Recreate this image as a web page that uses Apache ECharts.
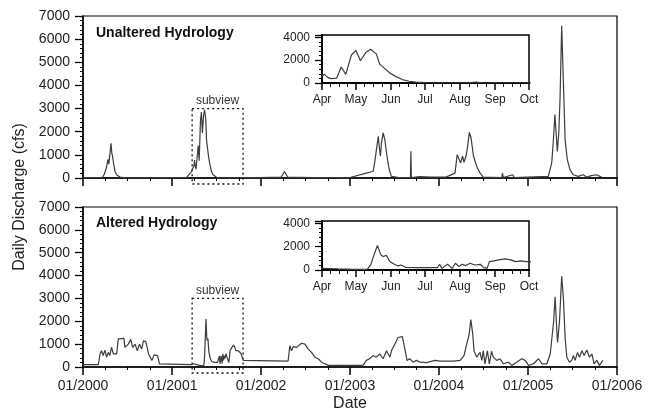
<!DOCTYPE html>
<html>
<head>
<meta charset="utf-8">
<script src="https://cdn.jsdelivr.net/npm/echarts@6/dist/echarts.min.js"></script>
<style>
  html, body { margin: 0; padding: 0; background: #fff; }
  #chart { width: 651px; height: 413px; }
</style>
</head>
<body>
<div id="chart"></div>
<script>
// daily discharge (cfs)
const unalteredFlow = [
  ['2000-01-01', 20], ['2000-03-20', 30], ['2000-03-28', 150], ['2000-04-06', 450],
  ['2000-04-12', 800], ['2000-04-16', 600], ['2000-04-20', 1000], ['2000-04-25', 1500],
  ['2000-04-28', 1100], ['2000-05-01', 950], ['2000-05-06', 600], ['2000-05-12', 250],
  ['2000-05-20', 120], ['2000-06-01', 40], ['2000-06-15', 20], ['2000-09-01', 10],
  ['2000-10-25', 20], ['2000-10-31', 70], ['2000-11-06', 20], ['2001-01-01', 20],
  ['2001-03-01', 30], ['2001-03-20', 250],
  ['2001-04-01', 550], ['2001-04-03', 780], ['2001-04-06', 490], ['2001-04-09', 380],
  ['2001-04-14', 430], ['2001-04-18', 1400], ['2001-04-22', 750], ['2001-04-27', 2450],
  ['2001-05-01', 2850], ['2001-05-05', 1950], ['2001-05-10', 2700], ['2001-05-14', 2950],
  ['2001-05-19', 2550], ['2001-05-22', 1650], ['2001-05-26', 1300], ['2001-05-31', 880],
  ['2001-06-05', 580], ['2001-06-11', 300], ['2001-06-17', 150], ['2001-06-23', 70],
  ['2001-07-02', 30], ['2001-07-11', 10], ['2001-08-09', 10], ['2001-08-15', 90],
  ['2001-08-21', 10], ['2001-10-01', 10], ['2001-11-01', 20], ['2002-01-01', 20],
  ['2002-03-25', 40], ['2002-04-07', 280], ['2002-04-20', 40], ['2002-08-01', 20],
  ['2003-01-01', 20], ['2003-03-09', 210], ['2003-03-23', 250], ['2003-04-06', 290],
  ['2003-04-13', 720], ['2003-04-20', 790], ['2003-04-27', 1800], ['2003-05-01', 1360],
  ['2003-05-06', 940], ['2003-05-10', 1510], ['2003-05-17', 1950], ['2003-05-24', 1660],
  ['2003-05-31', 1080], ['2003-06-07', 600], ['2003-06-13', 290], ['2003-06-20', 70],
  ['2003-07-15', 30], ['2003-09-06', 20], ['2003-09-08', 1150], ['2003-09-10', 20],
  ['2003-10-15', 60], ['2003-12-01', 40], ['2004-02-01', 50],
  ['2004-03-07', 210], ['2004-03-16', 1010], ['2004-03-24', 940], ['2004-03-30', 650],
  ['2004-04-07', 940], ['2004-04-13', 680], ['2004-04-21', 940], ['2004-04-28', 1370],
  ['2004-05-05', 1970], ['2004-05-12', 1730], ['2004-05-22', 940], ['2004-06-04', 500],
  ['2004-06-18', 210], ['2004-07-01', 40], ['2004-09-15', 20], ['2004-09-18', 210],
  ['2004-09-21', 20], ['2004-10-30', 140], ['2004-11-05', 20], ['2005-03-25', 70],
  ['2005-04-08', 650], ['2005-04-15', 1660], ['2005-04-21', 2740], ['2005-04-27', 1800],
  ['2005-05-01', 1150], ['2005-05-07', 1940], ['2005-05-12', 3380], ['2005-05-19', 6580],
  ['2005-05-26', 4100], ['2005-06-02', 1660], ['2005-06-11', 790], ['2005-06-22', 360],
  ['2005-07-05', 140], ['2005-07-26', 70], ['2005-08-15', 140], ['2005-08-29', 40],
  ['2005-09-18', 100], ['2005-10-08', 140], ['2005-10-30', 40]
];

const alteredFlow = [
  ['2000-01-01', 100], ['2000-03-04', 100], ['2000-03-11', 570], ['2000-03-17', 710],
  ['2000-03-24', 500], ['2000-03-31', 740], ['2000-04-07', 430], ['2000-04-14', 640],
  ['2000-04-20', 500], ['2000-04-27', 860], ['2000-05-05', 570], ['2000-05-18', 570],
  ['2000-05-25', 1230], ['2000-06-17', 1250], ['2000-06-21', 860], ['2000-07-05', 1000],
  ['2000-07-15', 1210], ['2000-07-23', 860], ['2000-08-02', 1000], ['2000-08-11', 710],
  ['2000-08-20', 1000], ['2000-08-29', 790], ['2000-09-05', 1140], ['2000-09-15', 1110],
  ['2000-09-23', 1070], ['2000-09-26', 570], ['2000-10-10', 290], ['2000-10-19', 530],
  ['2000-11-02', 500], ['2000-11-10', 140], ['2000-11-16', 100], ['2001-03-20', 100],
  ['2001-04-01', 140], ['2001-04-15', 90], ['2001-04-29', 60], ['2001-05-11', 60],
  ['2001-05-14', 430], ['2001-05-17', 1300], ['2001-05-20', 2100], ['2001-05-23', 1300],
  ['2001-05-25', 1160], ['2001-05-28', 1250], ['2001-05-31', 720], ['2001-06-04', 490],
  ['2001-06-07', 350], ['2001-06-10', 430], ['2001-06-14', 230], ['2001-06-23', 200],
  ['2001-07-06', 200], ['2001-07-12', 200], ['2001-07-14', 490], ['2001-07-16', 140],
  ['2001-07-21', 490], ['2001-07-25', 140], ['2001-07-28', 580], ['2001-07-31', 290],
  ['2001-08-03', 490], ['2001-08-06', 380], ['2001-08-10', 580], ['2001-08-14', 430],
  ['2001-08-19', 490], ['2001-08-22', 200], ['2001-08-25', 140], ['2001-08-27', 720],
  ['2001-08-31', 780], ['2001-09-04', 870], ['2001-09-10', 960], ['2001-09-15', 870],
  ['2001-09-19', 720], ['2001-09-24', 780], ['2001-09-28', 720], ['2001-10-01', 720],
  ['2001-10-10', 600], ['2001-10-20', 290], ['2001-10-25', 250], ['2002-04-22', 260],
  ['2002-04-29', 930], ['2002-05-06', 710], ['2002-05-13', 890], ['2002-05-27', 860],
  ['2002-06-16', 1040], ['2002-06-30', 1000], ['2002-07-13', 790], ['2002-07-27', 640],
  ['2002-08-10', 430], ['2002-08-24', 360], ['2002-09-06', 210], ['2002-09-20', 140],
  ['2002-10-04', 70], ['2003-02-24', 70], ['2003-03-09', 290], ['2003-03-23', 360],
  ['2003-04-05', 500], ['2003-04-19', 430], ['2003-05-03', 570], ['2003-05-17', 360],
  ['2003-05-31', 710], ['2003-06-14', 430], ['2003-06-20', 710], ['2003-07-04', 1000],
  ['2003-07-17', 1290], ['2003-08-04', 1330], ['2003-08-14', 790], ['2003-08-23', 290],
  ['2003-09-03', 360], ['2003-09-17', 210], ['2003-10-01', 290], ['2003-10-15', 210],
  ['2003-11-11', 190], ['2003-12-16', 290], ['2004-01-05', 260], ['2004-03-01', 260],
  ['2004-03-28', 290], ['2004-04-13', 500], ['2004-04-24', 1000], ['2004-05-04', 1430],
  ['2004-05-11', 2070], ['2004-05-19', 1430], ['2004-05-24', 710], ['2004-06-04', 430],
  ['2004-06-18', 640], ['2004-06-25', 290], ['2004-07-01', 710], ['2004-07-08', 140],
  ['2004-07-18', 710], ['2004-07-26', 140], ['2004-08-04', 690], ['2004-08-11', 430],
  ['2004-08-25', 290], ['2004-09-08', 360], ['2004-09-22', 140], ['2004-10-12', 210],
  ['2004-10-26', 70], ['2004-11-15', 210], ['2004-12-06', 360], ['2004-12-20', 290],
  ['2005-01-03', 70], ['2005-01-23', 140], ['2005-02-13', 360], ['2005-02-27', 140],
  ['2005-03-19', 140], ['2005-04-02', 570], ['2005-04-16', 2000], ['2005-04-22', 3070],
  ['2005-04-29', 1570], ['2005-05-02', 1070], ['2005-05-10', 2000], ['2005-05-19', 3970],
  ['2005-05-26', 3000], ['2005-06-02', 1290], ['2005-06-09', 430], ['2005-06-20', 210],
  ['2005-06-29', 290], ['2005-07-06', 500], ['2005-07-13', 290], ['2005-07-23', 640],
  ['2005-07-31', 430], ['2005-08-10', 710], ['2005-08-19', 500], ['2005-08-30', 740],
  ['2005-09-10', 430], ['2005-09-20', 570], ['2005-09-29', 140], ['2005-10-10', 290],
  ['2005-10-21', 70], ['2005-11-04', 290]
];

const panelTitles = ['Unaltered Hydrology', 'Altered Hydrology'];
const mainRange = ['2000-01-01', '2006-01-01'];
const subviewRange = ['2001-04-01', '2001-10-01'];
// dotted box drawn on the main panels: start, end, top value
const subviewBox = [['2001-03-24', '2001-10-19', 3000]];

const FONT = '"Liberation Sans", Arial, sans-serif';
const LINE = '#3c3c3c';
const plainNumber = function (v) { return String(v); };

const chart = echarts.init(document.getElementById('chart'), null, { renderer: 'canvas' });

function mainX(gridIndex, showLabels) {
  return {
    type: 'time', gridIndex: gridIndex,
    min: mainRange[0], max: mainRange[1], splitNumber: 6,
    axisLine: { lineStyle: { color: '#000', width: 1.5 } },
    axisTick: { show: true, inside: false, length: 8, lineStyle: { color: '#000', width: 1.5 } },
    minorTick: { show: true, splitNumber: 4, length: 3, lineStyle: { color: '#000', width: 1 } },
    splitLine: { show: false },
    axisLabel: {
      show: showLabels, formatter: '{MM}/{yyyy}', margin: 12,
      fontSize: 14, fontFamily: FONT, color: '#222', showMinLabel: true, showMaxLabel: true
    },
    name: showLabels ? 'Date' : '', nameLocation: 'middle', nameGap: 29,
    nameTextStyle: { fontSize: 16, fontFamily: FONT, color: '#222' }
  };
}
function mainY(gridIndex) {
  return {
    type: 'value', gridIndex: gridIndex, min: 0, max: 7000, interval: 1000,
    axisLine: { show: true, lineStyle: { color: '#000', width: 1.5 } },
    axisTick: { show: true, inside: false, length: 8, lineStyle: { color: '#000', width: 1.3 } },
    minorTick: { show: true, splitNumber: 5, length: 3, lineStyle: { color: '#000', width: 1 } },
    splitLine: { show: false },
    axisLabel: { margin: 13, fontSize: 14, fontFamily: FONT, color: '#222', formatter: plainNumber }
  };
}
function insetX(gridIndex) {
  return {
    type: 'time', gridIndex: gridIndex,
    min: subviewRange[0], max: subviewRange[1], splitNumber: 6,
    axisLine: { lineStyle: { color: '#000', width: 2 } },
    axisTick: { show: true, inside: false, length: 7, lineStyle: { color: '#000', width: 1.5 } },
    minorTick: { show: true, splitNumber: 4, length: 4, lineStyle: { color: '#000', width: 1 } },
    splitLine: { show: false },
    axisLabel: { formatter: '{MMM}', margin: 11, fontSize: 12, fontFamily: FONT, color: '#222',
      showMinLabel: true, showMaxLabel: true }
  };
}
function insetY(gridIndex) {
  return {
    type: 'value', gridIndex: gridIndex, min: 0, max: 4200, interval: 2000,
    axisLine: { show: true, lineStyle: { color: '#000', width: 2 } },
    axisTick: { show: true, inside: false, length: 7, lineStyle: { color: '#000', width: 1.3 } },
    minorTick: { show: true, splitNumber: 5, length: 3, lineStyle: { color: '#000', width: 1 } },
    splitLine: { show: false },
    axisLabel: { margin: 12, fontSize: 12, fontFamily: FONT, color: '#222', showMaxLabel: false,
      formatter: plainNumber }
  };
}

function flowLine(data, idx) {
  return {
    type: 'line', data: data, xAxisIndex: idx, yAxisIndex: idx,
    showSymbol: false, symbol: 'none', silent: true,
    lineStyle: { color: LINE, width: 1.2 }
  };
}

function subviewSeries(idx) {
  return {
    type: 'custom', xAxisIndex: idx, yAxisIndex: idx, clip: false, silent: true,
    dimensions: [{ name: 'start', type: 'time' }, { name: 'end', type: 'time' }, { name: 'top', type: 'number' }],
    encode: { x: [0, 1], y: 2 },
    data: subviewBox,
    renderItem: function (params, api) {
      const p0 = api.coord([api.value(0), api.value(2)]);
      const p1 = api.coord([api.value(1), 0]);
      return {
        type: 'group',
        children: [{
          type: 'rect',
          shape: { x: p0[0], y: p0[1], width: p1[0] - p0[0], height: p1[1] - p0[1] + 6 },
          style: { fill: 'none', stroke: '#111', lineWidth: 1.3, lineDash: [2, 3] }
        }, {
          type: 'text',
          x: (p0[0] + p1[0]) / 2, y: p0[1] - 2,
          style: { text: 'subview', align: 'center', verticalAlign: 'bottom',
            font: '12px ' + FONT, fill: '#333' }
        }]
      };
    }
  };
}

const frame = { show: true, borderColor: '#000', borderWidth: 1.2, backgroundColor: 'transparent' };

const option = {
  animation: false,
  backgroundColor: '#fff',
  title: [
    { text: panelTitles[0], left: 96, top: 26, padding: 0,
      textStyle: { fontSize: 14, fontWeight: 'bold', fontFamily: FONT, color: '#111' } },
    { text: panelTitles[1], left: 96, top: 216, padding: 0,
      textStyle: { fontSize: 14, fontWeight: 'bold', fontFamily: FONT, color: '#111' } }
  ],
  grid: [
    Object.assign({ left: 83, top: 16, width: 534, height: 162 }, frame),
    Object.assign({ left: 83, top: 207, width: 534, height: 163 }, frame),
    Object.assign({ left: 322, top: 35, width: 207, height: 48 }, frame, { borderWidth: 1.5 }),
    Object.assign({ left: 322, top: 221, width: 207, height: 49 }, frame, { borderWidth: 1.5 })
  ],
  xAxis: [mainX(0, false), mainX(1, true), insetX(2), insetX(3)],
  yAxis: [mainY(0), mainY(1), insetY(2), insetY(3)],
  graphic: [{
    type: 'text', x: 20, y: 197, rotation: Math.PI / 2,
    style: { text: 'Daily Discharge (cfs)', align: 'center', verticalAlign: 'middle',
      font: '16px ' + FONT, fill: '#222' }
  }],
  series: [
    flowLine(unalteredFlow, 0),
    flowLine(alteredFlow, 1),
    flowLine(unalteredFlow, 2),
    flowLine(alteredFlow, 3),
    subviewSeries(0),
    subviewSeries(1)
  ]
};

chart.setOption(option);
</script>
</body>
</html>
